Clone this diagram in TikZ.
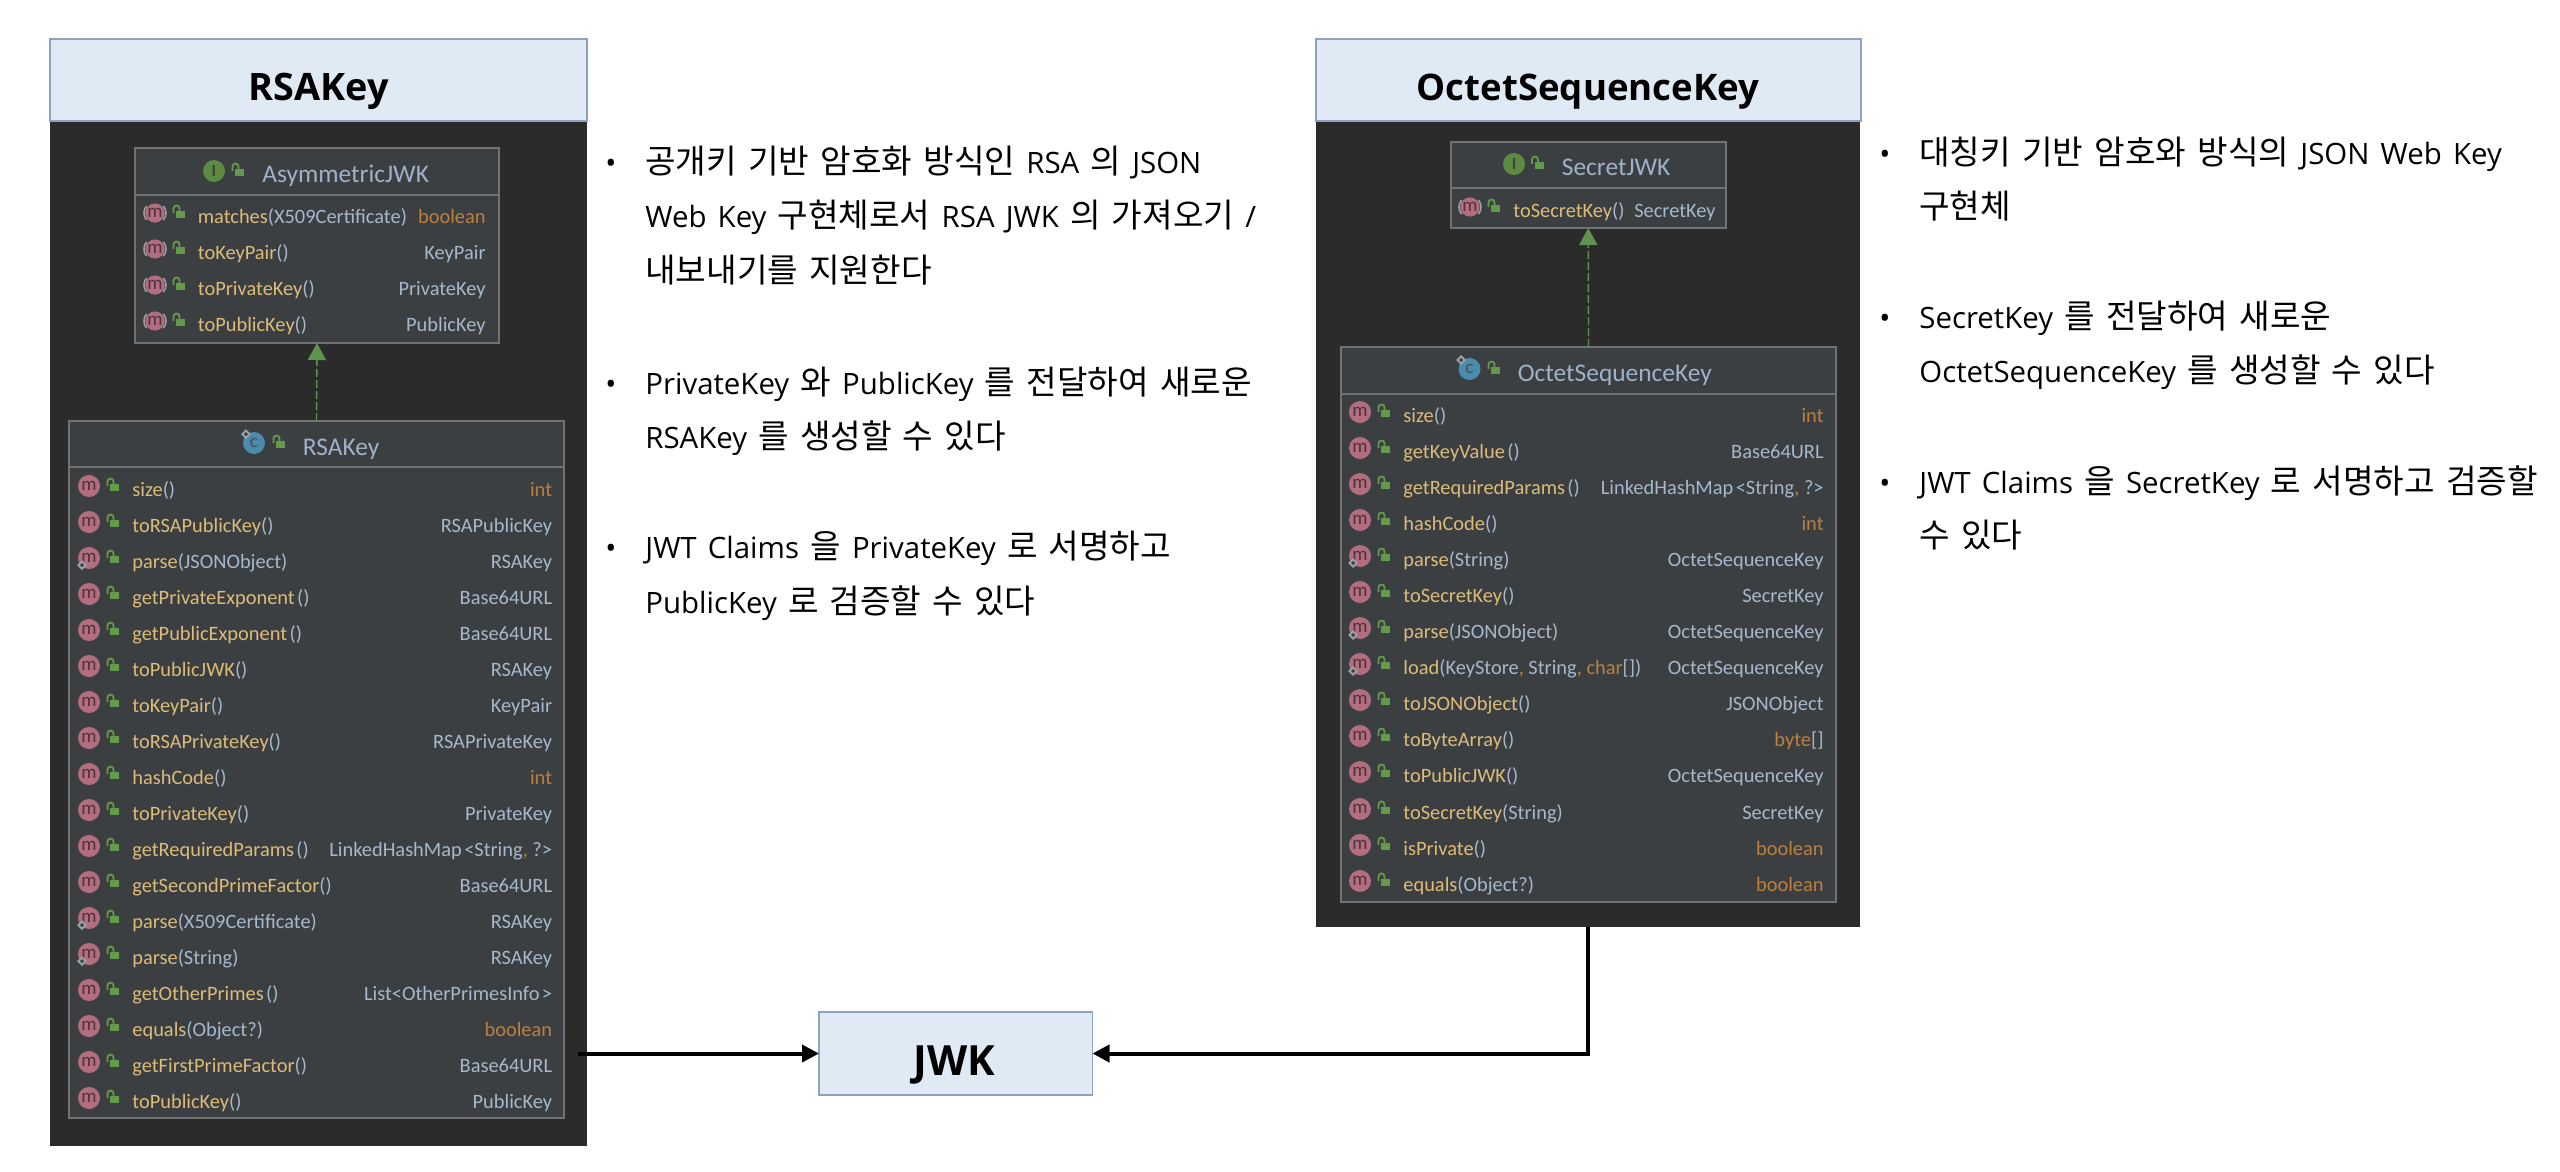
\documentclass[tikz,border=0pt]{standalone}
\usepackage{fontspec}
\usetikzlibrary{arrows.meta}
\setmainfont{Open Sans}
\newfontfamily\krf[Scale=1.13]{Noto Sans CJK KR}
\newfontfamily\umlf{Carlito}
\newcommand\krt[1]{{\krf #1}}
\newcommand\wsp{\spaceskip 5.6pt\relax}
\newcommand\tsp{\hspace{1.2pt}}
\definecolor{hdrfill}{HTML}{E0EAF5}
\definecolor{hdrline}{HTML}{8EA2BF}
\definecolor{panel}{HTML}{2B2B2B}
\definecolor{umlbg}{HTML}{3C3F41}
\definecolor{umlline}{HTML}{707274}
\definecolor{mth}{HTML}{DDBB78}
\definecolor{par}{HTML}{A6B8CC}
\definecolor{orng}{HTML}{BD7F3E}
\definecolor{ttl}{HTML}{9FB2CA}
\definecolor{micon}{HTML}{B26E80}
\definecolor{mletter}{HTML}{4E3238}
\definecolor{iicon}{HTML}{5B8A40}
\definecolor{cicon}{HTML}{4A8CAE}
\definecolor{lockc}{HTML}{659A4A}
\definecolor{implc}{HTML}{5F9450}
\definecolor{pinc}{HTML}{9AA0A4}
\tikzset{
  hdr/.style={draw=hdrline,fill=hdrfill,line width=.6pt,inner sep=0pt,outer sep=0pt},
  darkp/.style={fill=panel,inner sep=0pt,outer sep=0pt},
  umlbox/.style={draw=umlline,fill=umlbg,line width=1pt,inner sep=0pt,outer sep=0pt},
  hdrtext/.style={font=\bfseries\fontsize{18.9}{22}\selectfont,text=black,anchor=base,inner sep=0pt},
  btext/.style={font=\fontsize{14.7}{17}\selectfont,text=black,anchor=base west,inner sep=0pt},
  bdot/.style={font=\fontsize{14.7}{17}\selectfont,text=black,anchor=base,inner sep=0pt},
  umltitle/.style={font=\umlf\fontsize{12.7}{14}\selectfont,text=ttl,anchor=base west,inner sep=0pt},
  umlname/.style={font=\umlf\fontsize{10.2}{12}\selectfont,text=par,anchor=base west,inner sep=0pt},
  umltype/.style={font=\umlf\fontsize{10.2}{12}\selectfont,text=par,anchor=base east,inner sep=0pt},
  iconm/.style={circle,fill=micon,minimum size=11pt,inner sep=0pt,text=mletter,font=\umlf\fontsize{9.5}{10}\selectfont},
  iconma/.style={iconm,minimum size=9.6pt},
  iconi/.style={circle,fill=iicon,minimum size=11pt,inner sep=0pt,text=black!75,font=\umlf\bfseries\fontsize{8.5}{10}\selectfont},
  iconc/.style={circle,fill=cicon,minimum size=11pt,inner sep=0pt,text=black!70,font=\umlf\fontsize{9.5}{10}\selectfont},
  flow/.style={draw=black,line width=2pt,-{Triangle[length=8.5pt,width=8.5pt]}},
  impl/.style={draw=implc,line width=.7pt,dash pattern=on 4pt off 1.5pt,-{Triangle[length=8.5pt,width=9pt,fill=implc]}},
}
\newcommand\boxat[6]{%
  \pgfmathsetmacro\bw{(#4-#2)*0.5}\pgfmathsetmacro\bh{(#5-#3)*0.5}%
  \node[#6,minimum width=\bw pt,minimum height=\bh pt] (#1) at ({(#2+#4)/2},{(#3+#5)/2}) {};}
% open padlock at (#1,#2); the y axis points down here, so arcs run through 270 degrees to go up
\newcommand\lockat[2]{%
  \fill[lockc] ({#1-3},{#2-2}) rectangle ({#1+6},{#2+5});
  \draw[lockc,line width=.9pt] ({#1-5.5},{#2}) -- ({#1-5.5},{#2-4.5}) arc[start angle=180,end angle=360,radius=3] -- ({#1+.5},{#2-2});}
\newcommand\pinat[2]{%
  \fill[pinc] ({#1-5},{#2}) -- ({#1},{#2-5}) -- ({#1+5},{#2}) -- ({#1},{#2+5}) -- cycle;
  \fill[umlbg] ({#1-2},{#2}) -- ({#1},{#2-2}) -- ({#1+2},{#2}) -- ({#1},{#2+2}) -- cycle;}
% row: name, icon y, left text, right text, kind (n, a, s)
\newcommand\mrow[5]{%
  \if a#5
    \node[iconma] (#1-icon) at (\ix,#2) {m};
    \draw[pinc,line width=.8pt] ({\ix-8.43},{#2+7.07}) arc[start angle=140,end angle=220,radius=11];
    \draw[pinc,line width=.8pt] ({\ix+8.43},{#2+7.07}) arc[start angle=40,end angle=-40,radius=11];
  \else
    \node[iconm] (#1-icon) at (\ix,#2) {m};
  \fi
  \if s#5 \pinat{\ix-7}{#2+7}\fi
  \lockat{\lx}{#2}
  \node[umlname] (#1-name) at (\tx,#2+10.5) {#3};
  \node[umltype] (#1-type) at (\rx,#2+10.5) {#4};}
\newcommand\m[1]{\textcolor{mth}{#1}}
\newcommand\orn[1]{\textcolor{orng}{#1}}
\begin{document}
\begin{tikzpicture}[x=0.5pt,y=-0.5pt]
\useasboundingbox (0,0) rectangle (2560,1172);
\fill[white] (0,0) rectangle (2560,1172);
% left panel
\boxat{rsapanel}{50}{121}{587}{1146}{darkp}
\boxat{rsahdr}{50}{39}{587}{121}{hdr}
\node[hdrtext] (rsatitle) at (319,101) {RSAKey};
\boxat{asym}{135}{148}{499}{343}{umlbox}
\draw[umlline,line width=1pt] (135,195) -- (499,195);
\node[iconi] (asymicon) at (214,171) {I};
\lockat{238}{171}
\node[umltitle] (asymname) at (262,182.5) {AsymmetricJWK};
\def\ix{155}\def\lx{179}\def\tx{197.5}\def\rx{486}
\mrow{as1}{213}{\m{matches}(X509Certificate)}{\orn{boolean}}{a}
\mrow{as2}{249}{\m{toKeyPair}()}{KeyPair}{a}
\mrow{as3}{285}{\m{toPrivateKey}()}{PrivateKey}{a}
\mrow{as4}{321}{\m{toPublicKey}()}{PublicKey}{a}
\boxat{rsa}{69}{421}{564}{1118}{umlbox}
\draw[umlline,line width=1pt] (69,467) -- (564,467);
\node[iconc] (rsaicon) at (254,443) {c};
\pinat{246}{434}
\lockat{279}{443}
\node[umltitle] (rsaname) at (302.5,455) {RSAKey};
\draw[impl] (rsa.north) -- (asym.south);
\def\ix{89}\def\lx{113}\def\tx{132}\def\rx{552.5}
\mrow{r1}{486}{\m{size}()}{\orn{int}}{n}
\mrow{r2}{522}{\m{toRSAPublicKey}()}{RSAPublicKey}{n}
\mrow{r3}{558}{\m{parse}(JSONObject)}{RSAKey}{s}
\mrow{r4}{594}{\m{getPrivateExponent}\tsp()}{Base64URL}{n}
\mrow{r5}{630}{\m{getPublicExponent}\tsp()}{Base64URL}{n}
\mrow{r6}{666}{\m{toPublicJWK}()}{RSAKey}{n}
\mrow{r7}{702}{\m{toKeyPair}()}{KeyPair}{n}
\mrow{r8}{738}{\m{toRSAPrivateKey}()}{RSAPrivateKey}{n}
\mrow{r9}{774}{\m{hashCode}()}{\orn{int}}{n}
\mrow{r10}{810}{\m{toPrivateKey}()}{PrivateKey}{n}
\mrow{r11}{846}{\m{getRequiredParams}\tsp()}{LinkedHashMap\tsp<String\orn{,} ?>}{n}
\mrow{r12}{882}{\m{getSecondPrimeFactor}()}{Base64URL}{n}
\mrow{r13}{918}{\m{parse}(X509Certificate)}{RSAKey}{s}
\mrow{r14}{954}{\m{parse}(String)}{RSAKey}{s}
\mrow{r15}{990}{\m{getOtherPrimes}\tsp()}{List<OtherPrimesInfo\tsp>}{n}
\mrow{r16}{1026}{\m{equals}(Object?)}{\orn{boolean}}{n}
\mrow{r17}{1062}{\m{getFirstPrimeFactor}()}{Base64URL}{n}
\mrow{r18}{1098}{\m{toPublicKey}()}{PublicKey}{n}
% right panel
\boxat{oskpanel}{1316}{121}{1860}{927}{darkp}
\boxat{oskhdr}{1316}{39}{1861}{121}{hdr}
\node[hdrtext,font=\bfseries\fontsize{18.3}{22}\selectfont] (osktitle) at (1588,101) {OctetSequenceKey};
\boxat{sec}{1450.5}{142}{1726}{228}{umlbox}
\draw[umlline,line width=1pt] (1450.5,188) -- (1726,188);
\node[iconi] (secicon) at (1514,164) {I};
\lockat{1537.5}{164}
\node[umltitle] (secname) at (1561.5,176) {SecretJWK};
\def\ix{1470}\def\lx{1494}\def\tx{1513}\def\rx{1716}
\mrow{s1}{207}{\m{toSecretKey}()}{SecretKey}{a}
\boxat{osk}{1341}{347}{1836}{902}{umlbox}
\draw[umlline,line width=1pt] (1341,394) -- (1836,394);
\node[iconc] (oskicon) at (1469.5,369) {c};
\pinat{1461}{360}
\lockat{1494}{369}
\node[umltitle] (oskname) at (1517.5,381.5) {OctetSequenceKey};
\draw[impl] (osk.north) -- (sec.south);
\def\ix{1360}\def\lx{1384}\def\tx{1403}\def\rx{1824}
\mrow{o1}{412}{\m{size}()}{\orn{int}}{n}
\mrow{o2}{448}{\m{getKeyValue}\tsp()}{Base64URL}{n}
\mrow{o3}{484}{\m{getRequiredParams}\tsp()}{LinkedHashMap\tsp<String\orn{,} ?>}{n}
\mrow{o4}{520}{\m{hashCode}()}{\orn{int}}{n}
\mrow{o5}{556}{\m{parse}(String)}{OctetSequenceKey}{s}
\mrow{o6}{592}{\m{toSecretKey}()}{SecretKey}{n}
\mrow{o7}{628}{\m{parse}(JSONObject)}{OctetSequenceKey}{s}
\mrow{o8}{664}{\m{load}(KeyStore\orn{,} String\orn{, char}[])}{OctetSequenceKey}{s}
\mrow{o9}{700}{\m{toJSONObject}()}{JSONObject}{n}
\mrow{o10}{736}{\m{toByteArray}()}{\orn{byte}[]}{n}
\mrow{o11}{772}{\m{toPublicJWK}()}{OctetSequenceKey}{n}
\mrow{o12}{809}{\m{toSecretKey}(String)}{SecretKey}{n}
\mrow{o13}{845}{\m{isPrivate}()}{\orn{boolean}}{n}
\mrow{o14}{881}{\m{equals}(Object?)}{\orn{boolean}}{n}
% JWK and connectors
\boxat{jwk}{819}{1012}{1092.5}{1095}{hdr}
\node[hdrtext,font=\bfseries\fontsize{20.8}{22}\selectfont] (jwktitle) at (954.5,1075) {JWK};
\coordinate (rsaout) at (578,1053.5);
\draw[flow] (rsaout) -- (jwk.west);
\draw[flow] (oskpanel.south) |- (jwk.east);
% left bullets
\node[bdot] (lb1) at (611,173.5) {•};
\node[btext] (lt1) at (645,173.5) {\wsp\krt{공개키 기반 암호화 방식인} RSA \krt{의} JSON};
\node[btext] (lt2) at (645,227.5) {\wsp Web Key \krt{구현체로서} RSA JWK \krt{의 가져오기} /};
\node[btext] (lt3) at (645,282) {\wsp\krt{내보내기를 지원한다}};
\node[bdot] (lb2) at (611,394) {•};
\node[btext] (lt4) at (645,394) {\wsp PrivateKey \krt{와} PublicKey \krt{를 전달하여 새로운}};
\node[btext] (lt5) at (645,448.5) {\wsp RSAKey \krt{를 생성할 수 있다}};
\node[bdot] (lb3) at (611,558) {•};
\node[btext] (lt6) at (645,558) {\wsp JWT Claims \krt{을} PrivateKey \krt{로 서명하고}};
\node[btext] (lt7) at (645,613) {\wsp PublicKey \krt{로 검증할 수 있다}};
% right bullets
\node[bdot] (rb1) at (1885,164) {•};
\node[btext] (rt1) at (1919,164) {\wsp\krt{대칭키 기반 암호와 방식의} JSON Web Key};
\node[btext] (rt2) at (1919,218) {\wsp\krt{구현체}};
\node[bdot] (rb2) at (1885,328) {•};
\node[btext] (rt3) at (1919,328) {\wsp SecretKey \krt{를 전달하여 새로운}};
\node[btext] (rt4) at (1919,382.5) {\wsp OctetSequenceKey \krt{를 생성할 수 있다}};
\node[bdot] (rb3) at (1885,493) {•};
\node[btext] (rt5) at (1919,493) {\wsp JWT Claims \krt{을} SecretKey \krt{로 서명하고 검증할}};
\node[btext] (rt6) at (1919,547) {\wsp\krt{수 있다}};
\end{tikzpicture}
\end{document}
